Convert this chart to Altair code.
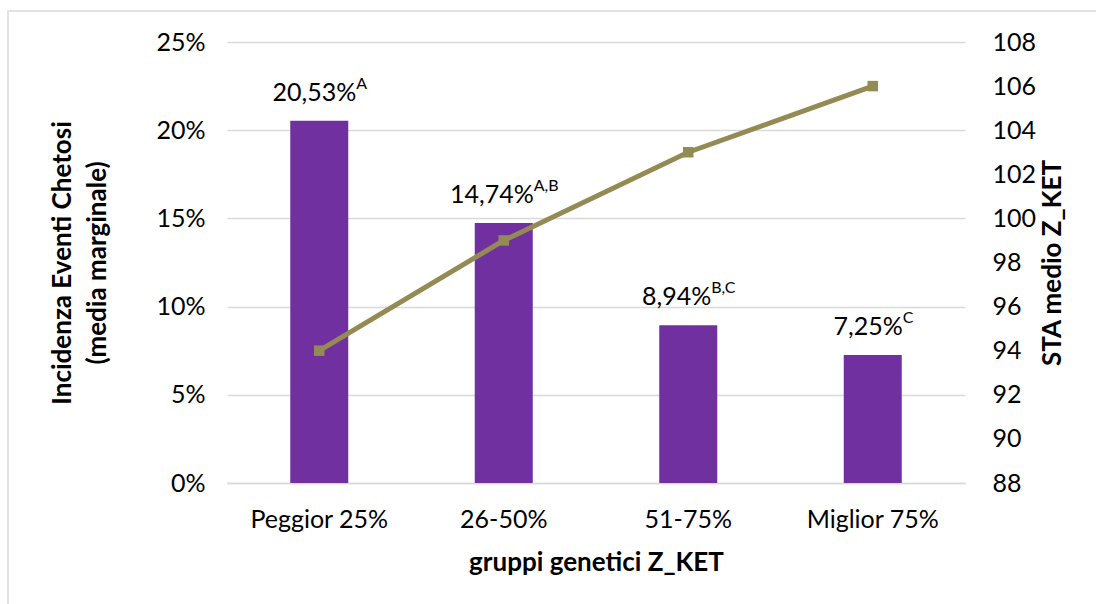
import altair as alt
import pandas as pd

# Genetic groups, ketosis incidence (marginal mean) and mean STA for Z_KET
groups = ["Peggior 25%", "26-50%", "51-75%", "Miglior 75%"]
incidence = [0.2053, 0.1474, 0.0894, 0.0725]
letters = ["A", "A,B", "B,C", "C"]
sta_mean = [94, 99, 103, 106]

FONT = "Lato"
BAR_COLOR = "#7030A0"
LINE_COLOR = "#948A54"
GRID = "#D9D9D9"
MAIN_SIZE = 25
SUP_SIZE = 16

# rough Lato advance widths (em) used to centre "value + superscript" pairs
CHAR_W = {**{d: 0.58 for d in "0123456789"}, ",": 0.25, "%": 0.83,
          "A": 0.68, "B": 0.63, "C": 0.65}


def text_width(s, size):
    return sum(CHAR_W.get(c, 0.6) for c in s) * size


df = pd.DataFrame({
    "gruppo": groups,
    "incidenza": incidence,
    "lettere": letters,
    "sta": sta_mean,
})
df["etichetta"] = [f"{v * 100:.2f}%".replace(".", ",") for v in incidence]

x_enc = alt.X(
    "gruppo:N", sort=groups, title="gruppi genetici Z_KET",
    scale=alt.Scale(paddingInner=0, paddingOuter=0),
    axis=alt.Axis(labelAngle=0, ticks=False, domainColor=GRID, domainWidth=1.5,
                  labelPadding=24, titlePadding=17),
)
y_left = alt.Y(
    "incidenza:Q",
    scale=alt.Scale(domain=[0, 0.25], nice=False),
    axis=alt.Axis(values=[0, 0.05, 0.10, 0.15, 0.20, 0.25], format=".0%",
                  title=["Incidenza Eventi Chetosi", "(media marginale)"],
                  titleLineHeight=35, ticks=False, domain=False, grid=True,
                  gridColor=GRID, gridWidth=1.5, labelPadding=22,
                  titlePadding=45),
)

bars = alt.Chart(df).mark_bar(color=BAR_COLOR, size=58).encode(x=x_enc, y=y_left)

labels = []
for _, row in df.iterrows():
    wm = text_width(row["etichetta"], MAIN_SIZE)
    ws = text_width(row["lettere"], SUP_SIZE)
    shift = (wm - ws) / 2
    one = df[df["gruppo"] == row["gruppo"]]
    labels.append(
        alt.Chart(one).mark_text(font=FONT, fontSize=MAIN_SIZE, color="#000000",
                                 align="right", baseline="alphabetic",
                                 dx=shift, dy=-20)
        .encode(x=alt.X("gruppo:N", sort=groups), y=y_left, text="etichetta:N")
    )
    labels.append(
        alt.Chart(one).mark_text(font=FONT, fontSize=SUP_SIZE, color="#000000",
                                 align="left", baseline="alphabetic",
                                 dx=shift, dy=-32)
        .encode(x=alt.X("gruppo:N", sort=groups), y=y_left, text="lettere:N")
    )

y_right = alt.Y(
    "sta:Q",
    scale=alt.Scale(domain=[88, 108], nice=False),
    axis=alt.Axis(orient="right", values=list(range(88, 109, 2)), format="d",
                  title="STA medio Z_KET", titleAngle=270, ticks=False,
                  domain=False, grid=False, labelPadding=27, titlePadding=30),
)
line = alt.Chart(df).mark_line(color=LINE_COLOR, strokeWidth=5).encode(
    x=alt.X("gruppo:N", sort=groups), y=y_right)
points = alt.Chart(df).mark_square(color=LINE_COLOR, size=110, opacity=1).encode(
    x=alt.X("gruppo:N", sort=groups), y=y_right)

frame = alt.Chart(alt.Data(values=[{}])).mark_rect(
    fill=None, stroke=GRID, strokeWidth=1.5
).encode(x=alt.value(-219), y=alt.value(-31), x2=alt.value(2000), y2=alt.value(2000))

left = alt.layer(bars, *labels)
right = alt.layer(line, points)

chart = (
    alt.layer(frame, left, right)
    .resolve_scale(y="independent")
    .properties(width=738, height=441,
                autosize=alt.AutoSizeParams(type="none"),
                padding={"left": 227, "top": 42, "right": 131, "bottom": 121})
    .configure(font=FONT)
    .configure_view(stroke=None)
    .configure_axis(labelFont=FONT, labelFontSize=25, labelColor="#000000",
                    titleFont=FONT, titleFontSize=26, titleFontWeight="bold",
                    titleColor="#000000")
)

chart.save("out.html", embed_options={"renderer": "svg", "actions": False})
